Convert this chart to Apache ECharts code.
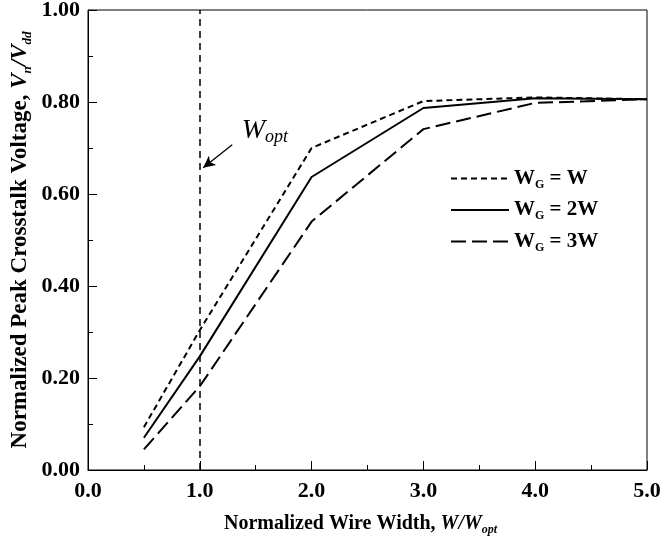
<!DOCTYPE html>
<html>
<head>
<meta charset="utf-8">
<script src="https://cdn.jsdelivr.net/npm/echarts@6/dist/echarts.min.js"></script>
<style>
  html, body { margin: 0; padding: 0; background: #fff; }
  #chart { width: 660px; height: 540px; }
</style>
</head>
<body>
<div id="chart"></div>
<script>
  // normalized wire width W/Wopt
  const widths = [0.5, 1.0, 2.0, 3.0, 4.0, 5.0]
  const wgW = [0.093, 0.304, 0.700, 0.802, 0.810, 0.806]
  const wg2W = [0.070, 0.247, 0.637, 0.787, 0.808, 0.806]
  const wg3W = [0.045, 0.182, 0.540, 0.741, 0.798, 0.806]
  const seriesNames = ['W{sub|G} = W', 'W{sub|G} = 2W', 'W{sub|G} = 3W']
  const xTicks = [0, 1, 2, 3, 4, 5]
  const yTicks = [0, 0.2, 0.4, 0.6, 0.8, 1.0]
  const wOpt = 1.0
  const arrowFrom = [1.29, 0.707]
  const arrowTo = [1.03, 0.657]
  const wOptLabelAt = [1.33, 0.738]

  const font = 'Liberation Serif'
  const pairs = (ys) => widths.map((x, i) => [x, ys[i]])

  function line(name, ys, dash) {
    return {
      name,
      type: 'line',
      data: pairs(ys),
      symbol: 'none',
      silent: true,
      lineStyle: { color: '#000', width: 2, type: dash },
    }
  }

  function nameRich(size) {
    return {
      b: { fontFamily: font, fontWeight: 'bold', fontSize: size, color: '#000' },
      i: { fontFamily: font, fontStyle: 'italic', fontWeight: 'bold', fontSize: size, color: '#000' },
      s: { fontFamily: font, fontStyle: 'italic', fontWeight: 'bold', fontSize: Math.round(size * 0.58), color: '#000', padding: [Math.round(size * 0.6), 0, 0, 0] },
    }
  }

  const chart = echarts.init(document.getElementById('chart'), null, { renderer: 'canvas' })

  chart.setOption({
    animation: false,
    backgroundColor: '#fff',
    grid: {
      left: 88, right: 13, top: 10, bottom: 70,
      outerBoundsMode: 'none',
      containLabel: false,
      show: true, borderColor: '#000', borderWidth: 1,
    },
    legend: {
      left: 445, top: 163,
      orient: 'vertical',
      itemWidth: 58, itemHeight: 14, itemGap: 9,
      data: seriesNames,
      itemStyle: { color: 'rgba(0,0,0,0)', borderWidth: 0 },
      textStyle: {
        fontFamily: font, fontWeight: 'bold', fontSize: 21, color: '#000',
        rich: {
          sub: { fontFamily: font, fontWeight: 'bold', fontSize: 12, color: '#000', padding: [12, 0, 0, 0] },
        },
      },
    },
    xAxis: {
      type: 'value',
      min: xTicks[0], max: xTicks[xTicks.length - 1], interval: 1,
      name: '{b|Normalized Wire Width, }{i|W/W}{s|opt}',
      nameLocation: 'middle', nameGap: 42,
      nameMoveOverlap: false,
      nameTextStyle: { rich: nameRich(20), padding: [0, 14, 0, 0] },
      axisLine: { lineStyle: { color: '#000', width: 1 } },
      axisTick: { inside: true, length: 9, lineStyle: { color: '#000' } },
      minorTick: { show: true, splitNumber: 2, length: 5, lineStyle: { color: '#000' } },
      splitLine: { show: false },
      axisLabel: {
        margin: 10,
        fontFamily: font, fontWeight: 'bold', fontSize: 22, color: '#000',
        formatter: (v) => v.toFixed(1),
      },
    },
    yAxis: {
      type: 'value',
      min: yTicks[0], max: yTicks[yTicks.length - 1], interval: 0.2,
      name: '{b|Normalized Peak Crosstalk Voltage, }{i|V}{s|n}{i|/V}{s|dd}',
      nameLocation: 'middle', nameGap: 54, nameRotate: 90,
      nameMoveOverlap: false,
      nameTextStyle: { rich: nameRich(23) },
      axisLine: { lineStyle: { color: '#000', width: 1 } },
      axisTick: { inside: true, length: 9, lineStyle: { color: '#000' } },
      minorTick: { show: true, splitNumber: 2, length: 5, lineStyle: { color: '#000' } },
      splitLine: { show: false },
      axisLabel: {
        margin: 8,
        fontFamily: font, fontWeight: 'bold', fontSize: 22, color: '#000',
        formatter: (v) => v.toFixed(2),
      },
    },
    series: [
      Object.assign(line(seriesNames[0], wgW, [6, 4]), {
        markLine: {
          silent: true,
          symbol: 'none',
          label: { show: false },
          lineStyle: { color: '#000', width: 1.5, type: [7, 5] },
          data: [
            { xAxis: wOpt },
            [
              { coord: arrowFrom, symbol: 'none', lineStyle: { type: 'solid', width: 1.3 } },
              { coord: arrowTo, symbol: 'arrow', symbolSize: [9, 12] },
            ],
          ],
        },
        markPoint: {
          silent: true,
          symbol: 'circle', symbolSize: 0,
          data: [{ coord: wOptLabelAt }],
          label: {
            show: true,
            position: 'right',
            formatter: '{w|W}{s|opt}',
            rich: {
              w: { fontFamily: font, fontStyle: 'italic', fontSize: 28, color: '#000' },
              s: { fontFamily: font, fontStyle: 'italic', fontSize: 18, color: '#000', padding: [14, 0, 0, 0] },
            },
          },
        },
      }),
      line(seriesNames[1], wg2W, 'solid'),
      line(seriesNames[2], wg3W, [15, 6]),
    ],
  })
</script>
</body>
</html>
